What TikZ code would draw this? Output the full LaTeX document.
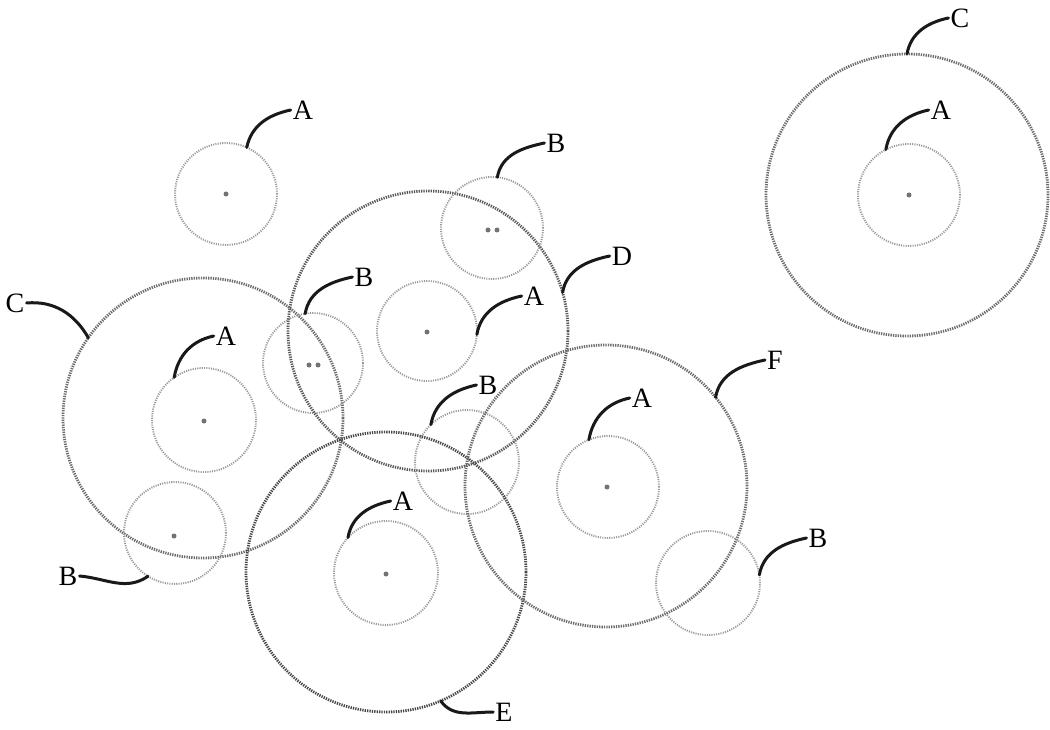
\documentclass[tikz,border=0pt]{standalone}
\usepackage{fontspec}
\setmainfont{Liberation Serif}
\begin{document}
\begin{tikzpicture}[x=1pt,y=-1pt,
  bigc/.style={circle, draw=black!58, line width=2.8pt, dash pattern=on 1.3pt off 1.1pt, inner sep=0pt, outer sep=0pt, minimum size=280pt},
  smallc/.style={circle, draw=black!40, line width=1.9pt, dash pattern=on 1.1pt off 1.2pt, inner sep=0pt, outer sep=0pt, minimum size=102pt},
  lead/.style={line width=3pt, line cap=round, black!90},
  lab/.style={font=\fontsize{28}{30}\selectfont, inner sep=2pt},
  ctr/.style={circle, fill=black!55, inner sep=0pt, minimum size=5pt}]
\useasboundingbox (0,0) rectangle (1050,730);
% circles
\node[smallc] (a1) at (226,194) {};
\node[bigc, minimum size=282pt] (c2) at (907,195) {};
\node[smallc] (a2) at (909,195) {};
\node[bigc] (c1) at (203,418) {};
\node[smallc, minimum size=104pt] (a3) at (204,420) {};
\node[smallc] (b1) at (175,533) {};
\node[smallc, minimum size=100pt] (b2) at (313,363) {};
\node[bigc, draw=black!65] (d) at (428,331) {};
\node[smallc, minimum size=100pt] (a4) at (427,331) {};
\node[smallc] (b3) at (492,228) {};
\node[smallc, minimum size=104pt] (b4) at (467,462) {};
\node[bigc, draw=black!72] (e) at (386,572) {};
\node[smallc, minimum size=104pt] (a5) at (386,573) {};
\node[bigc, minimum size=282pt] (f) at (606,486) {};
\node[smallc] (a6) at (608,487) {};
\node[smallc, minimum size=104pt] (b5) at (708,583) {};
% centre marks
\node[ctr] (m1) at (226,194) {};
\node[ctr] (m2) at (909,195) {};
\node[ctr] (m3) at (204,421) {};
\node[ctr] (m4) at (174,536) {};
\node[ctr] (m5a) at (309,365) {};
\node[ctr] (m5b) at (318,365) {};
\node[ctr] (m6) at (427,332) {};
\node[ctr] (m7a) at (488,230) {};
\node[ctr] (m7b) at (497,230) {};
\node[ctr] (m8) at (386,574) {};
\node[ctr] (m9) at (607,487) {};
% labels
\node[lab] (la1) at (303,110) {A};
\node[lab] (lc2) at (960,18) {C};
\node[lab] (la2) at (941,110) {A};
\node[lab] (lc1) at (15,303) {C};
\node[lab] (la3) at (226,336) {A};
\node[lab] (lb1) at (68,576) {B};
\node[lab] (lb2) at (364,277) {B};
\node[lab] (ld) at (622,256) {D};
\node[lab] (la4) at (534,296) {A};
\node[lab] (lb3) at (556,143) {B};
\node[lab] (lb4) at (488,385) {B};
\node[lab] (le) at (504,712) {E};
\node[lab] (la5) at (403,501) {A};
\node[lab] (lf) at (775,360) {F};
\node[lab] (la6) at (642,398) {A};
\node[lab] (lb5) at (818,538) {B};
% leaders
\draw[lead] (a1.66) to[out=78,in=192] (la1.west);
\draw[lead] (c2.90) to[out=80,in=192] (lc2.west);
\draw[lead] (a2.117) to[out=80,in=192] (la2.west);
\draw[lead] (c1.145) to[out=120,in=5] (lc1.east);
\draw[lead] (a3.125) to[out=80,in=192] (la3.west);
\draw[lead] (b1.238) to[out=215,in=-5] (lb1.east);
\draw[lead] (b2.99) to[out=80,in=192] (lb2.west);
\draw[lead] (d.16) to[out=80,in=192] (ld.west);
\draw[lead] (a4.-4) to[out=80,in=192] (la4.west);
\draw[lead] (b3.84) to[out=80,in=192] (lb3.west);
\draw[lead] (b4.134) to[out=80,in=192] (lb4.west);
\draw[lead] (e.293) to[out=-55,in=180] (le.west);
\draw[lead] (a5.137) to[out=80,in=192] (la5.west);
\draw[lead] (f.39) to[out=80,in=192] (lf.west);
\draw[lead] (a6.112) to[out=80,in=192] (la6.west);
\draw[lead] (b5.9) to[out=80,in=192] (lb5.west);
\end{tikzpicture}
\end{document}
